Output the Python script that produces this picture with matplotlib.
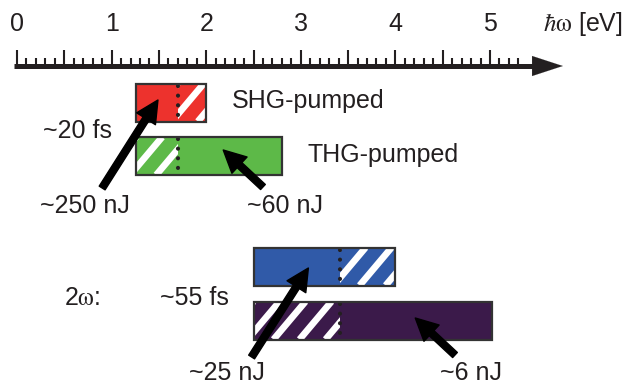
import numpy as np
import matplotlib.pyplot as plt
from matplotlib.patches import Rectangle

plt.rcParams['font.family'] = ['Liberation Sans', 'DejaVu Sans']
plt.rcParams['mathtext.fontset'] = 'stix'

# photon energy scale (eV)
tick_labels = ['0', '1', '2', '3', '4', '5']
axis_label = r'$\hbar\mathrm{\omega}$ [eV]'

# spectral bands: low edge, high edge, split between solid / striped part (eV)
band_names = ['SHG', 'THG', '2w SHG', '2w THG']
band_lo = [1.26, 1.26, 2.50, 2.50]
band_hi = [2.00, 2.80, 4.00, 5.02]
band_split = [1.70, 1.70, 3.41, 3.41]
band_striped_high = [True, False, True, False]
band_colors = ['#ED322D', '#5DB948', '#305AA8', '#3B1A4A']
band_row = [102.5, 156.0, 266.5, 320.5]

# arrows (tail -> tip), x in eV, y in canvas rows
arrow_tail_x = [0.90, 2.60, 2.48, 4.63]
arrow_tail_y = [188, 187, 357, 355]
arrow_tip_x = [1.49, 2.18, 3.08, 4.21]
arrow_tip_y = [100, 150, 268, 318]

# text labels
labels = ['SHG-pumped', 'THG-pumped', '~20 fs', '~250 nJ', '~60 nJ',
          r'2$\mathrm{\omega}$:', '~55 fs', '~25 nJ', '~6 nJ']
label_x = [2.27, 3.07, 0.27, 0.24, 2.43, 0.50, 1.51, 1.82, 4.47]
label_y = [108, 162, 138, 213, 213, 305, 305, 380, 380]

PX = 94.6   # canvas pixels per eV
fig = plt.figure(figsize=(6.32, 3.85), dpi=100)
ax = fig.add_axes([0, 0, 1, 1])
ax.set_xlim(-17 / PX, (632 - 17) / PX)
ax.set_ylim(385, 0)
ax.axis('off')

# energy axis with arrow
axis_y = 66
ax.plot([-0.03, 5.47], [axis_y, axis_y], color='#231F20', lw=3.6, solid_capstyle='butt')
ax.annotate('', xy=(5.77, axis_y), xytext=(5.3, axis_y),
            arrowprops=dict(arrowstyle='-|>,head_length=2.2,head_width=0.72',
                            color='#231F20', lw=0.1, mutation_scale=10,
                            shrinkA=0, shrinkB=0))
minor = np.round(np.arange(0, 5.31, 0.1), 2)
for t in minor:
    h = 16 if abs(t * 2 - round(t * 2)) < 1e-6 else 8
    ax.plot([t, t], [axis_y, axis_y - h], color='#231F20', lw=1.5, solid_capstyle='butt')
for i, lab in enumerate(tick_labels):
    ax.text(i, 31, lab, ha='center', va='baseline', fontsize=18, color='#231F20')
ax.text(5.56, 31, axis_label, ha='left', va='baseline', fontsize=18, color='#231F20')

h = 38
stripe_dx = 26 / PX     # horizontal period of white stripes
stripe_shift = 32 / PX  # horizontal run of a stripe across the bar height
for lo, hi, sp, hiside, c, yc in zip(band_lo, band_hi, band_split, band_striped_high,
                                     band_colors, band_row):
    y0, y1 = yc - h / 2, yc + h / 2
    ax.barh(yc, hi - lo, left=lo, height=h, color=c, lw=0, zorder=1)
    s0, s1 = (sp, hi) if hiside else (lo, sp)
    clip = Rectangle((s0, y0), s1 - s0, h, transform=ax.transData, fc='none', ec='none')
    ax.add_patch(clip)
    for xs in np.arange(s0 - stripe_shift, s1 + stripe_dx, stripe_dx):
        ln, = ax.plot([xs, xs + stripe_shift], [y1, y0], color='white', lw=4.8,
                      solid_capstyle='butt', zorder=2)
        ln.set_clip_path(clip)
    ax.plot([sp, sp], [y0 + 2, y1 - 2], color='#231F20', lw=3,
            linestyle=(0, (0.01, 2.3)), dash_capstyle='round', zorder=3)
    ax.barh(yc, hi - lo, left=lo, height=h, fill=False, edgecolor='#333333',
            lw=1.6, zorder=4)

for tx, ty, px, py in zip(arrow_tail_x, arrow_tail_y, arrow_tip_x, arrow_tip_y):
    ax.annotate('', xy=(px, py), xytext=(tx, ty), zorder=5,
                arrowprops=dict(arrowstyle='simple,head_length=1.6,head_width=1.6,tail_width=0.5',
                                color='black', mutation_scale=10, shrinkA=0, shrinkB=0))

for lab, x, y in zip(labels, label_x, label_y):
    ax.text(x, y, lab, ha='left', va='baseline', fontsize=18, color='#231F20')

fig.savefig('out.png', dpi=100)
